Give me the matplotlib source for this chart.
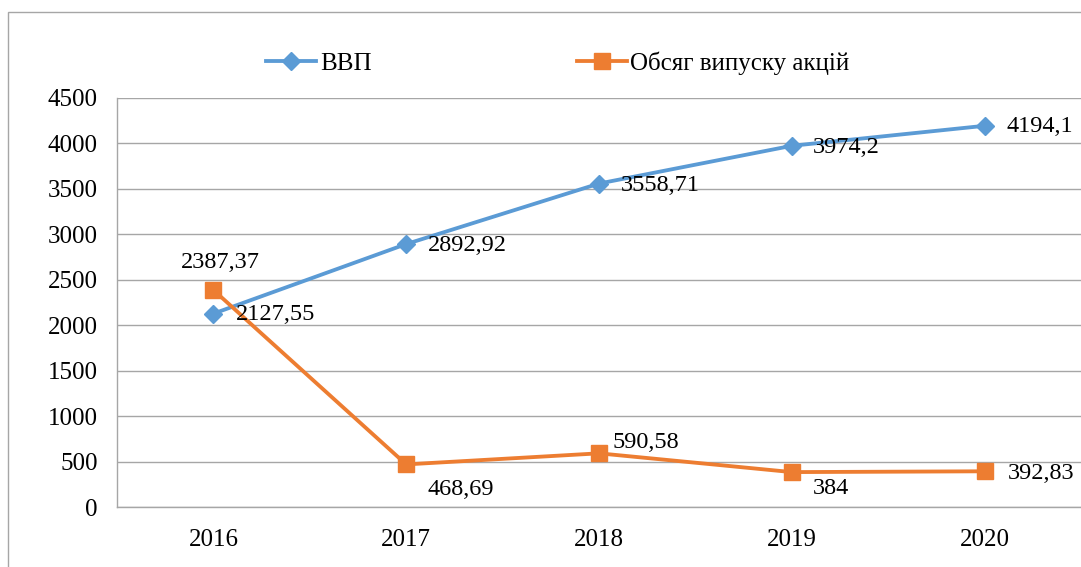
import matplotlib
matplotlib.use('Agg')
import matplotlib.pyplot as plt
from matplotlib.patches import Rectangle

plt.rcParams['font.family'] = ['Liberation Serif', 'DejaVu Serif']

# Дані
years = ['2016', '2017', '2018', '2019', '2020']
gdp = [2127.55, 2892.92, 3558.71, 3974.2, 4194.1]
shares = [2387.37, 468.69, 590.58, 384, 392.83]
gdp_labels = ['2127,55', '2892,92', '3558,71', '3974,2', '4194,1']
shares_labels = ['2387,37', '468,69', '590,58', '384', '392,83']

BLUE = '#5B9BD5'
ORANGE = '#ED7D31'

fig = plt.figure(figsize=(10.81, 5.67), dpi=100)
ax = fig.add_axes([117 / 1081, 60 / 567, 1 - 117 / 1081, 409 / 567])

# рамка навколо діаграми
fig.patches.append(Rectangle((8 / 1081, -0.1), 1.2, 1 - 12 / 567 + 0.1,
                             transform=fig.transFigure, fill=False,
                             edgecolor='#A6A6A6', linewidth=1.0))

x = list(range(len(years)))
ax.plot(x, gdp, color=BLUE, linewidth=2.75, marker='D', markersize=9,
        label='ВВП', zorder=3)
ax.plot(x, shares, color=ORANGE, linewidth=2.75, marker='s', markersize=11.5,
        label='Обсяг випуску акцій', zorder=3)

ax.set_xlim(-0.5, 4.5)
ax.set_ylim(0, 4500)
ax.set_yticks(range(0, 4501, 500))
ax.set_xticks(x)
ax.set_xticklabels(years)
ax.tick_params(axis='both', labelsize=18, length=0, colors='black')
ax.tick_params(axis='x', pad=16)
ax.tick_params(axis='y', pad=14)
ax.yaxis.grid(True, color='#A6A6A6', linewidth=1.0)
ax.set_axisbelow(True)
for side in ['top', 'right']:
    ax.spines[side].set_visible(False)
for side in ['left', 'bottom']:
    ax.spines[side].set_color('#A6A6A6')
    ax.spines[side].set_linewidth(1.0)

# підписи значень (зсув у пікселях)
gdp_off = [(22, -1), (22, -1), (22, -2), (21, -2), (22, -1)]
for i, (v, s) in enumerate(zip(gdp, gdp_labels)):
    ax.annotate(s, (i, v), xytext=gdp_off[i], textcoords='offset pixels',
                ha='left', va='center', fontsize=17.5)
sh_off = [(7, 28, 'center'), (21, -25, 'left'), (13, 11, 'left'),
          (21, -16, 'left'), (23, -2, 'left')]
for i, (v, s) in enumerate(zip(shares, shares_labels)):
    dx, dy, ha = sh_off[i]
    ax.annotate(s, (i, v), xytext=(dx, dy), textcoords='offset pixels',
                ha=ha, va='center', fontsize=17.5)

fig.legend(loc='center', bbox_to_anchor=(558 / 1081, 1 - 63 / 567), ncol=2,
           frameon=False, fontsize=18, handlelength=2.0, columnspacing=8.2,
           handletextpad=0.15)

plt.savefig('out.png', dpi=100)
